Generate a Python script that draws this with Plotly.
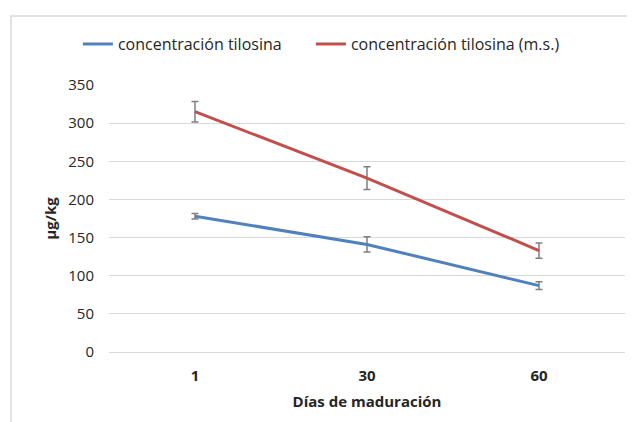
import plotly.graph_objects as go

dias = ["1", "30", "60"]
conc = [178, 141, 87]
conc_err = [3.5, 10, 5]
conc_ms = [315, 228, 133]
conc_ms_err = [13.5, 15, 10]

font_family = "Open Sans, Noto Sans, sans-serif"
text_color = "#262626"
xpos = list(range(len(dias)))

fig = go.Figure()
fig.add_trace(go.Scatter(
    x=xpos, y=conc, mode="lines", name="concentración tilosina",
    line=dict(color="#4F81BD", width=3), legend="legend",
    error_y=dict(type="data", array=conc_err, visible=True, color="#808080", thickness=1.5, width=3.5),
))
fig.add_trace(go.Scatter(
    x=xpos, y=conc_ms, mode="lines", name="concentración tilosina (m.s.)",
    line=dict(color="#C0504D", width=3), legend="legend2",
    error_y=dict(type="data", array=conc_ms_err, visible=True, color="#808080", thickness=1.5, width=3.5),
))

legend_style = dict(orientation="h", xanchor="left", y=1.217, yanchor="top",
                    font=dict(size=16, color=text_color), itemwidth=30,
                    bgcolor="rgba(0,0,0,0)")

fig.update_layout(
    width=635, height=422,
    margin=dict(l=101, r=18, t=77, b=78),
    paper_bgcolor="white", plot_bgcolor="white",
    font=dict(family=font_family, size=15, color=text_color),
    showlegend=True,
    legend=dict(x=-0.0603, **legend_style),
    legend2=dict(x=0.3913, **legend_style),
    xaxis=dict(
        tickmode="array", tickvals=xpos, ticktext=["<b>%s</b>" % d for d in dias],
        range=[-0.5, 2.5], showgrid=False, zeroline=False,
        showline=False, ticks="", ticklabelstandoff=13,
        tickfont=dict(size=15, color=text_color, family=font_family),
        title=dict(text="<b>Días de maduración</b>", font=dict(size=15, color=text_color), standoff=12),
    ),
    yaxis=dict(
        range=[0, 350], dtick=50, showgrid=True, gridcolor="#d9d9d9", gridwidth=1,
        zeroline=True, zerolinecolor="#d9d9d9", zerolinewidth=1,
        showline=False, ticks="", ticklabelstandoff=14,
        tickfont=dict(size=15, color=text_color, family=font_family),
        title=dict(text="<b>µg/kg</b>", font=dict(size=15, color=text_color), standoff=8),
    ),
    shapes=[dict(type="rect", xref="paper", yref="paper",
                 x0=-0.19, x1=1.3, y0=-0.6, y1=1.258,
                 line=dict(color="#d9d9d9", width=1.5), fillcolor="rgba(0,0,0,0)", layer="below")],
)

fig.write_html("out.html")
